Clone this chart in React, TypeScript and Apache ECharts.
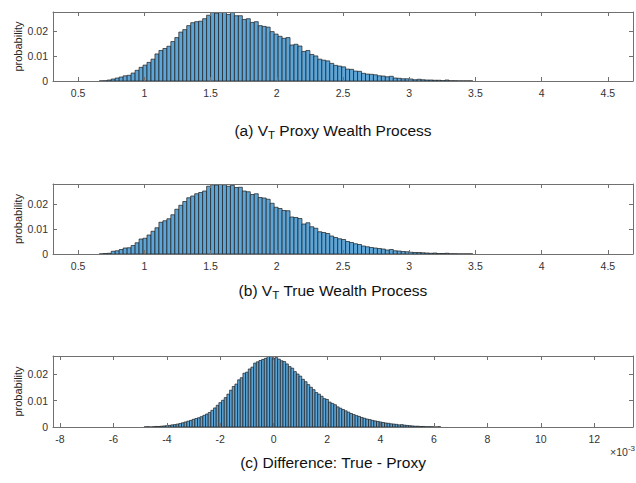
import React, { useEffect, useRef } from "react";
import * as echarts from "echarts";

// ---- Data ----
// (a) V_T proxy wealth process histogram: bins start at 0.66, width 0.03
const proxyBinStart = 0.66;
const proxyBinWidth = 0.03;
const proxyProb = [
  0.00005, 0.0001,
  0.0004, 0.0008, 0.0012, 0.0016, 0.0021, 0.0023, 0.0032, 0.0043, 0.0055, 0.0064,
  0.0075, 0.0088, 0.0109, 0.0123, 0.0131, 0.014, 0.0159, 0.0175, 0.0197, 0.0207,
  0.0223, 0.0235, 0.0239, 0.0241, 0.0251, 0.0265, 0.0276,
  0.0273, 0.0279, 0.0276, 0.0268, 0.0278, 0.0263, 0.0263, 0.0248, 0.0251, 0.0236,
  0.0239, 0.0223, 0.022, 0.0217, 0.0199, 0.0189, 0.018, 0.0172, 0.0175, 0.0145,
  0.0148, 0.0141, 0.0119, 0.0123, 0.0107, 0.0101, 0.0088, 0.0084, 0.0081, 0.0071,
  0.0063, 0.006, 0.0057, 0.0048, 0.0047, 0.004, 0.0039, 0.0031, 0.0028, 0.0027,
  0.0025, 0.0021, 0.002, 0.0017, 0.0019, 0.0012, 0.0011, 0.0009, 0.0009, 0.0008,
  0.0005, 0.0007, 0.0005, 0.0004, 0.0004, 0.0003, 0.0003, 0.00015, 0.0004, 0.0001,
  0.0001, 0.00005, 0.00005, 0.00005, 0.00005,
];

// (b) V_T true wealth process histogram
const trueBinStart = 0.66;
const trueBinWidth = 0.03;
const trueProb = [
  0.00005, 0.0002,
  0.0003, 0.0011, 0.0013, 0.0018, 0.0024, 0.0025, 0.0034, 0.0045, 0.006, 0.0063,
  0.0076, 0.0091, 0.0105, 0.0127, 0.0133, 0.0141, 0.0157, 0.0179, 0.0195, 0.021,
  0.0225, 0.0232, 0.0241, 0.0246, 0.0252, 0.0271, 0.0277,
  0.0276, 0.028, 0.0277, 0.0271, 0.0275, 0.0266, 0.0267, 0.0252, 0.0249, 0.0238,
  0.0241, 0.0226, 0.0224, 0.0219, 0.0203, 0.0187, 0.0182, 0.0174, 0.0173, 0.0148,
  0.0146, 0.0142, 0.012, 0.0125, 0.0109, 0.0103, 0.0089, 0.0086, 0.0082, 0.0072,
  0.0066, 0.0061, 0.0058, 0.005, 0.0046, 0.0041, 0.0038, 0.0032, 0.0029, 0.0026,
  0.0024, 0.0022, 0.002, 0.0016, 0.0018, 0.0013, 0.0012, 0.001, 0.0009, 0.0007,
  0.0006, 0.0006, 0.0005, 0.0004, 0.0003, 0.0004, 0.0002, 0.0002, 0.0003, 0.0001,
  0.0001, 0.00005, 0.00005, 0.00005, 0.00005,
];

// (c) Difference True - Proxy, in units of 1e-3; bins start at -4.85, width 0.1
const diffBinStart = -4.85;
const diffBinWidth = 0.1;
const diffProb = [
  0.00005, 0.0001, 0, 0.0001, 0.0002, 0.0002, 0.0003, 0.0004, 0.0005, 0.0006,
  0.0008, 0.0009, 0.0011, 0.0013, 0.0016, 0.0019, 0.0022, 0.0025, 0.0029, 0.0032,
  0.0035, 0.0039, 0.0044, 0.0049, 0.0055, 0.0063, 0.0072, 0.0082, 0.0092, 0.0101,
  0.0111, 0.0124, 0.0139, 0.0153, 0.0162, 0.0178, 0.0186, 0.0203, 0.0207, 0.0219,
  0.0226, 0.0241, 0.0246, 0.0251, 0.0255, 0.0259, 0.0268, 0.0266, 0.0259, 0.0262,
  0.0256, 0.025, 0.0247, 0.0238, 0.0228, 0.0222, 0.0209, 0.02, 0.0192, 0.018,
  0.0171, 0.016, 0.015, 0.0141, 0.013, 0.0124, 0.0116, 0.0107, 0.0104, 0.0094,
  0.0089, 0.0084, 0.0076, 0.0071, 0.0066, 0.0061, 0.0056, 0.0051, 0.0047, 0.0043,
  0.004, 0.0036, 0.0033, 0.003, 0.0028, 0.0025, 0.0023, 0.0021, 0.0019, 0.0017,
  0.0015, 0.0014, 0.0012, 0.0011, 0.001, 0.0008, 0.0009, 0.0007, 0.0006, 0.0005,
  0.0004, 0.0003, 0.0003, 0.0002, 0.0002, 0.0001, 0.0001, 0.0001, 0.00005, 0,
  0.0001,
];

// axis extents and tick steps
const xRanges = [
  [0.31, 4.69],
  [0.31, 4.69],
  [-8.26, 13.45],
];
const xSteps = [0.5, 0.5, 2];
const yMaxes = [0.0278, 0.028, 0.0268];
const yStep = 0.01;

const titles = [
  ["(a) V", "T", " Proxy Wealth Process"],
  ["(b) V", "T", " True Wealth Process"],
  ["(c) Difference: True - Proxy", "", ""],
];

const FONT = 'Arial, "Liberation Sans", Helvetica, sans-serif';

function binsToData(start: number, width: number, probs: number[]) {
  return probs.map((p, i) => [start + i * width, start + (i + 1) * width, p]);
}

const grids = [
  { left: 53, top: 12, right: 1, height: 69 },
  { left: 53, top: 184, right: 1, height: 70 },
  { left: 53, top: 356, right: 1, height: 71 },
];

function isMultiple(v: number, step: number) {
  const r = v / step;
  return Math.abs(r - Math.round(r)) < 1e-6;
}

export default function App() {
  const ref = useRef<HTMLDivElement>(null);
  useEffect(() => {
    if (!ref.current) return;
    const chart = echarts.init(ref.current, undefined, { renderer: "svg" });
    const axisColor = "#707070";
    const labelColor = "#333333";

    const xAxes: any[] = [];
    const yAxes: any[] = [];
    grids.forEach((_, gi) => {
      const step = xSteps[gi];
      ["bottom", "top"].forEach((pos) => {
        xAxes.push({
          type: "value",
          gridIndex: gi,
          position: pos,
          min: xRanges[gi][0],
          max: xRanges[gi][1],
          minInterval: step,
          maxInterval: step,
          splitNumber: 9,
          z: 5,
          axisLine: { show: true, onZero: false, lineStyle: { color: axisColor, width: 1 } },
          axisTick: { show: true, inside: true, length: 4, lineStyle: { color: axisColor } },
          splitLine: { show: false },
          axisLabel: {
            show: pos === "bottom",
            color: labelColor,
            fontSize: 10.5,
            fontFamily: FONT,
            margin: 6,
            formatter: (v: number) => (isMultiple(v, step) ? String(+v.toFixed(4)) : ""),
          },
        });
      });
      ["left", "right"].forEach((pos) => {
        yAxes.push({
          type: "value",
          gridIndex: gi,
          position: pos,
          min: 0,
          max: yMaxes[gi],
          minInterval: yStep,
          maxInterval: yStep,
          splitNumber: 3,
          z: 5,
          axisLine: { show: true, onZero: false, lineStyle: { color: axisColor, width: 1 } },
          axisTick: { show: true, inside: true, length: 4, lineStyle: { color: axisColor } },
          splitLine: { show: false },
          axisLabel: {
            show: pos === "left",
            color: labelColor,
            fontSize: 10.5,
            fontFamily: FONT,
            margin: 5,
            formatter: (v: number) => (isMultiple(v, yStep) ? String(+v.toFixed(4)) : ""),
          },
        });
      });
    });

    const datasets = [
      binsToData(proxyBinStart, proxyBinWidth, proxyProb),
      binsToData(trueBinStart, trueBinWidth, trueProb),
      binsToData(diffBinStart, diffBinWidth, diffProb),
    ];

    const series = datasets.map((data, gi) => ({
      type: "custom",
      xAxisIndex: gi * 2,
      yAxisIndex: gi * 2,
      clip: true,
      encode: { x: [0, 1], y: 2 },
      data,
      renderItem: (params: any, api: any) => {
        const a = api.coord([api.value(0), api.value(2)]);
        const b = api.coord([api.value(1), 0]);
        return {
          type: "rect",
          shape: { x: a[0], y: a[1], width: b[0] - a[0], height: b[1] - a[1] },
          style: { fill: "#5da5d7", stroke: "#1c1c1c", lineWidth: 0.7 },
        };
      },
    }));

    const titleY = [130, 290, 462];
    const graphics: any[] = [];
    titles.forEach((t, i) => {
      const text = t[1]
        ? `{n|${t[0]}}{s|${t[1]}}{n|${t[2]}}`
        : `{n|${t[0]}}`;
      graphics.push({
        type: "text",
        x: 333,
        y: titleY[i],
        style: {
          text,
          align: "center",
          verticalAlign: "middle",
          fill: "#111",
          rich: {
            n: { fontSize: 15.5, fontFamily: FONT, fill: "#111" },
            s: { fontSize: 11.5, fontFamily: FONT, fill: "#111", padding: [10, 0, 0, 0] },
          },
        },
      });
    });
    grids.forEach((g) => {
      graphics.push({
        type: "text",
        x: 18,
        y: g.top + g.height / 2,
        rotation: Math.PI / 2,
        style: {
          text: "probability",
          align: "center",
          verticalAlign: "middle",
          fontSize: 11,
          fontFamily: FONT,
          fill: "#262626",
        },
      });
    });
    graphics.push({
      type: "text",
      x: 635,
      y: 452,
      style: {
        text: "{n|×10}{e|-3}",
        align: "right",
        verticalAlign: "middle",
        rich: {
          n: { fontSize: 10.5, fontFamily: FONT, fill: "#333" },
          e: { fontSize: 8, fontFamily: FONT, fill: "#333", padding: [0, 0, 7, 0] },
        },
      },
    });

    chart.setOption({
      animation: false,
      backgroundColor: "#ffffff",
      grid: grids,
      xAxis: xAxes,
      yAxis: yAxes,
      series,
      graphic: graphics,
    });
    return () => chart.dispose();
  }, []);
  return (
    <div
      ref={ref}
      style={{ position: "fixed", left: 0, top: 0, width: 636, height: 483, background: "#fff" }}
    />
  );
}
